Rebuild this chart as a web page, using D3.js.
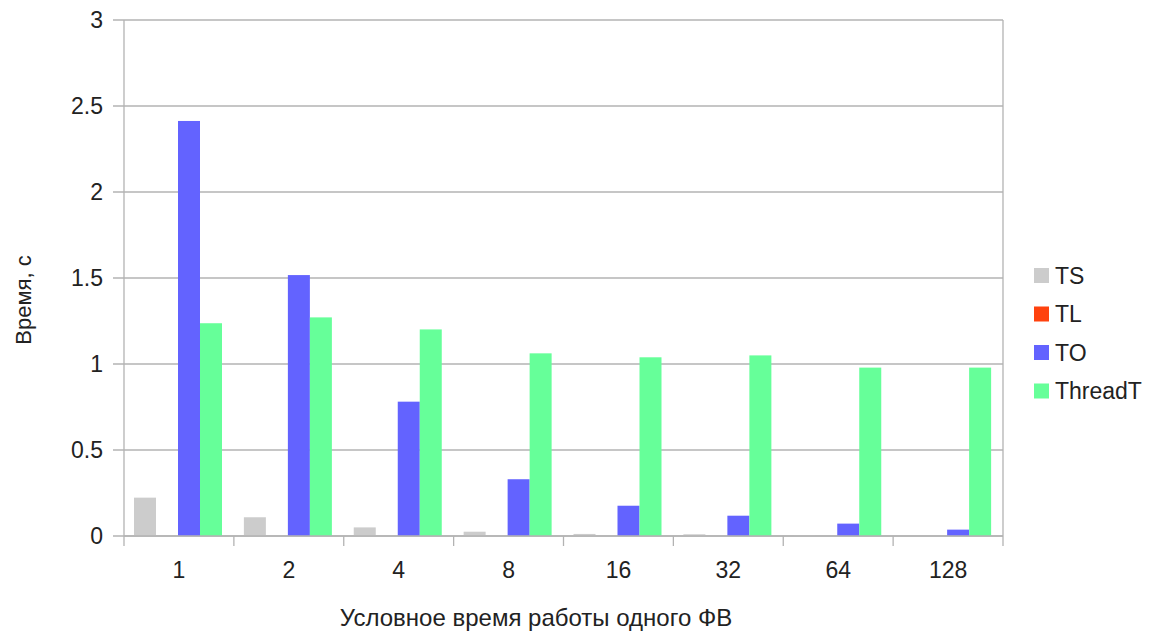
<!DOCTYPE html>
<html><head><meta charset="utf-8">
<script src="https://cdn.jsdelivr.net/npm/d3@7/dist/d3.min.js"></script>
<style>
html,body{margin:0;padding:0;background:#fff;}
svg{display:block;font-family:"Liberation Sans",Arial,sans-serif;}
</style></head>
<body><svg id="chart" width="1155" height="633"></svg>
<script>
const categories = ["1","2","4","8","16","32","64","128"];
const seriesNames = ["TS","TL","TO","ThreadT"];
const TS = [0.223, 0.109, 0.05, 0.025, 0.012, 0.01, 0.003, 0.001];
const TL = [0, 0, 0, 0, 0, 0, 0, 0];
const TO = [2.413, 1.517, 0.781, 0.33, 0.176, 0.118, 0.072, 0.037];
const ThreadT = [1.237, 1.271, 1.201, 1.062, 1.039, 1.05, 0.979, 0.979];
const yTicks = [0, 0.5, 1, 1.5, 2, 2.5, 3];
const colors = {TS:"#cccccc", TL:"#ff420e", TO:"#6363ff", ThreadT:"#66ff99"};
const seriesData = {TS, TL, TO, ThreadT};

const svg = d3.select("#chart");
const L = 124, R = 1003, T = 20, B = 536;
const grid = "#b3b3b3", txt = "#222";

const x0 = d3.scaleBand().domain(categories).range([L, R]).padding(0);
const x1 = d3.scaleBand().domain(seriesNames).range([10, 98]).padding(0);
const y = d3.scaleLinear().domain([0, 3]).range([B, T]);

// gridlines
svg.append("g").selectAll("line").data(yTicks).join("line")
  .attr("x1", L - 11).attr("x2", R)
  .attr("y1", d => y(d)).attr("y2", d => y(d))
  .attr("stroke", grid).attr("stroke-width", 1.3);

// y labels
svg.append("g").selectAll("text").data(yTicks).join("text")
  .attr("x", 103).attr("y", d => y(d)).attr("dy", "0.36em")
  .attr("text-anchor", "end").attr("font-size", 23).attr("fill", txt)
  .text(d => String(d));

// bars
const groups = svg.append("g").selectAll("g").data(categories).join("g")
  .attr("transform", d => `translate(${x0(d)},0)`);
groups.selectAll("rect").data((c, i) => seriesNames.map(s => ({s, v: seriesData[s][i]}))).join("rect")
  .attr("x", d => x1(d.s)).attr("width", x1.bandwidth())
  .attr("y", d => y(d.v)).attr("height", d => B - y(d.v))
  .attr("fill", d => colors[d.s]);

// axes lines
svg.append("line").attr("x1", L).attr("x2", L).attr("y1", T).attr("y2", B + 10)
  .attr("stroke", grid).attr("stroke-width", 1.3);
svg.append("line").attr("x1", R).attr("x2", R).attr("y1", T).attr("y2", B + 10)
  .attr("stroke", grid).attr("stroke-width", 1.3);
svg.append("line").attr("x1", L).attr("x2", R).attr("y1", B).attr("y2", B)
  .attr("stroke", grid).attr("stroke-width", 1.3);
// x ticks at band boundaries
svg.append("g").selectAll("line").data(categories.slice(1)).join("line")
  .attr("x1", d => x0(d)).attr("x2", d => x0(d)).attr("y1", B).attr("y2", B + 10)
  .attr("stroke", grid).attr("stroke-width", 1.3);

// x labels
svg.append("g").selectAll("text").data(categories).join("text")
  .attr("x", d => x0(d) + x0.bandwidth() / 2).attr("y", 578)
  .attr("text-anchor", "middle").attr("font-size", 23).attr("fill", txt)
  .text(d => d);

// axis titles
svg.append("text").attr("x", 536).attr("y", 626).attr("text-anchor", "middle")
  .attr("font-size", 24).attr("fill", txt).text("Условное время работы одного ФВ");
svg.append("text").attr("transform", "translate(31,300) rotate(-90)")
  .attr("text-anchor", "middle").attr("font-size", 22).attr("fill", txt).text("Время, с");

// legend
const lg = svg.append("g").selectAll("g").data(seriesNames).join("g")
  .attr("transform", (d, i) => `translate(1034,${275.5 + i * 38.5})`);
lg.append("rect").attr("x", 0).attr("y", -7.5).attr("width", 15).attr("height", 15)
  .attr("fill", d => colors[d]);
lg.append("text").attr("x", 21).attr("y", 0).attr("dy", "0.36em")
  .attr("font-size", 23).attr("fill", txt).text(d => d);
</script></body></html>
